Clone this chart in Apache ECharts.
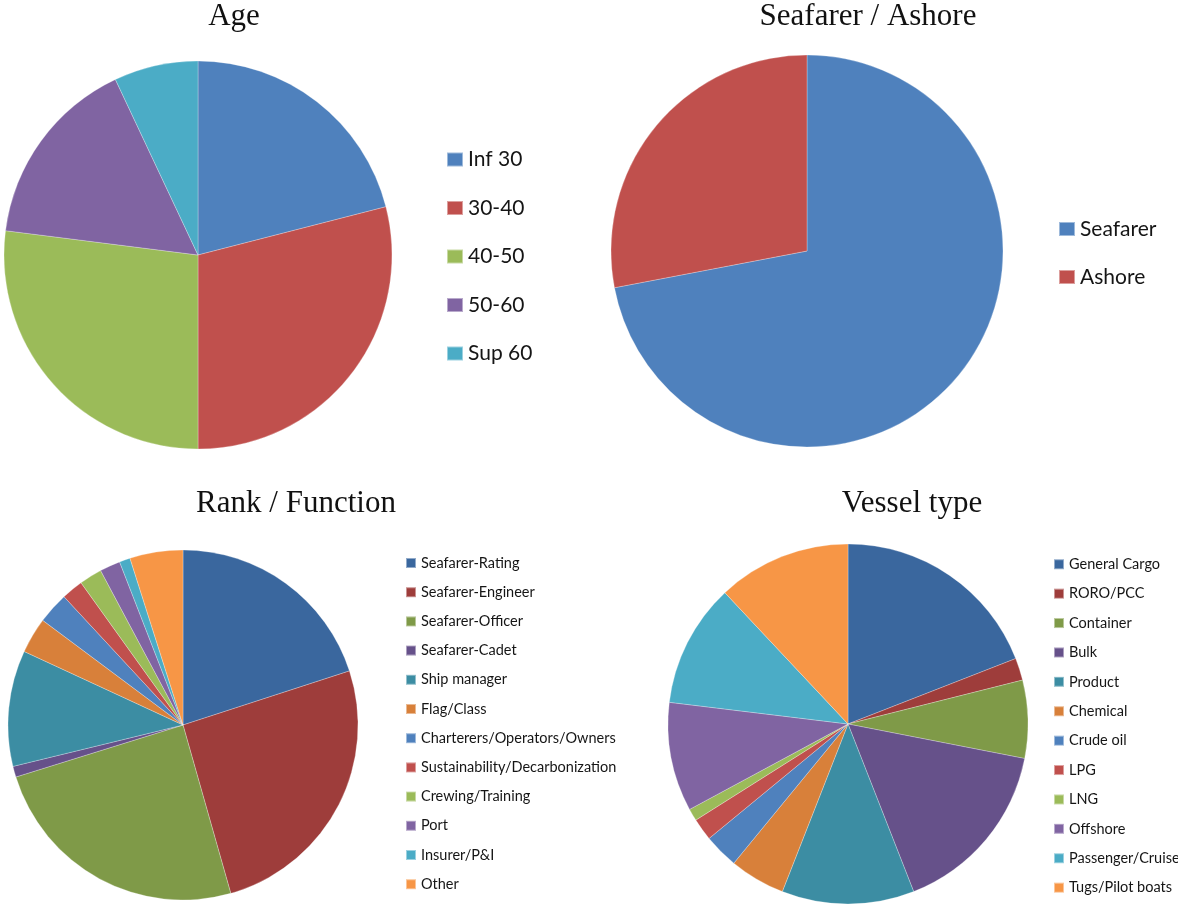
<!DOCTYPE html>
<html>
<head>
<meta charset="utf-8">
<script src="https://cdn.jsdelivr.net/npm/echarts@6/dist/echarts.min.js"></script>
</head>
<body style="margin:0;background:#fff;">
<div id="container" style="width:1178px;height:904px;"></div>
<script type="text/javascript">
// values (percent)
var ageNames = ['Inf 30', '30-40', '40-50', '50-60', 'Sup 60'];
var ageValues = [21, 29, 27, 16, 7];

var workNames = ['Seafarer', 'Ashore'];
var workValues = [72, 28];

var rankNames = ['Seafarer-Rating', 'Seafarer-Engineer', 'Seafarer-Officer', 'Seafarer-Cadet',
    'Ship manager', 'Flag/Class', 'Charterers/Operators/Owners', 'Sustainability/Decarbonization',
    'Crewing/Training', 'Port', 'Insurer/P&I', 'Other'];
var rankValues = [20, 25.6, 24.6, 1, 10.7, 3.3, 2.9, 2, 2.1, 1.9, 1, 4.9];

var vesselNames = ['General Cargo', 'RORO/PCC', 'Container', 'Bulk', 'Product', 'Chemical',
    'Crude oil', 'LPG', 'LNG', 'Offshore', 'Passenger/Cruise', 'Tugs/Pilot boats'];
var vesselValues = [19.1, 2, 7, 16, 11.9, 5, 3.1, 2, 1.1, 9.8, 11.1, 12];

var lightColors = ['#4F81BD', '#C0504D', '#9BBB59', '#8064A2', '#4BACC6', '#F79646'];
var darkColors = ['#3A679E', '#9E3D3B', '#7F9A48', '#66518A', '#3C8DA3', '#D8803A',
    '#4F81BD', '#C0504D', '#9BBB59', '#8064A2', '#4BACC6', '#F79646'];

function toData(names, values, colors) {
    return names.map(function (n, i) {
        return { name: n, value: values[i], itemStyle: { color: colors[i % colors.length] } };
    });
}

function pie(names, values, colors, center, radius) {
    return {
        type: 'pie',
        center: center,
        radius: radius,
        startAngle: 90,
        clockwise: true,
        label: { show: false },
        labelLine: { show: false },
        emphasis: { disabled: true },
        itemStyle: { borderColor: 'rgba(255,255,255,0.45)', borderWidth: 0.6 },
        data: toData(names, values, colors)
    };
}

function legend(names, left, top, fontSize, iw, ih, gap) {
    return {
        orient: 'vertical',
        left: left,
        top: top,
        padding: 0,
        icon: 'rect',
        itemWidth: iw,
        itemHeight: ih,
        itemGap: gap,
        selectedMode: false,
        data: names,
        textStyle: { fontFamily: 'Lato', fontSize: fontSize, lineHeight: fontSize, color: '#151515' }
    };
}

function title(text, x, y) {
    return {
        text: text,
        left: x,
        top: y,
        textAlign: 'center',
        padding: 0,
        textStyle: { fontFamily: 'Liberation Serif', fontSize: 31, lineHeight: 31, fontWeight: 'normal', color: '#111' }
    };
}

var dom = document.getElementById('container');
var myChart = echarts.init(dom);

var option = {
    animation: false,
    backgroundColor: '#fff',
    title: [
        title('Age', 234, 1),
        title('Seafarer / Ashore', 868, 1),
        title('Rank / Function', 296, 488),
        title('Vessel type', 912, 488)
    ],
    legend: [
        legend(ageNames, 446, 149, 21, 16, 14, 27.5),
        legend(workNames, 1058, 218.5, 21, 16, 14, 27),
        legend(rankNames, 405, 555.5, 14.5, 10, 10, 14.2),
        legend(vesselNames, 1053, 556.75, 14.5, 10, 10, 14.4)
    ],
    series: [
        pie(ageNames, ageValues, lightColors, [198, 255], 194),
        pie(workNames, workValues, lightColors, [807, 251], 196),
        pie(rankNames, rankValues, darkColors, [183, 725], 175),
        pie(vesselNames, vesselValues, darkColors, [848, 724], 180)
    ]
};

myChart.setOption(option, true);
</script>
</body>
</html>
